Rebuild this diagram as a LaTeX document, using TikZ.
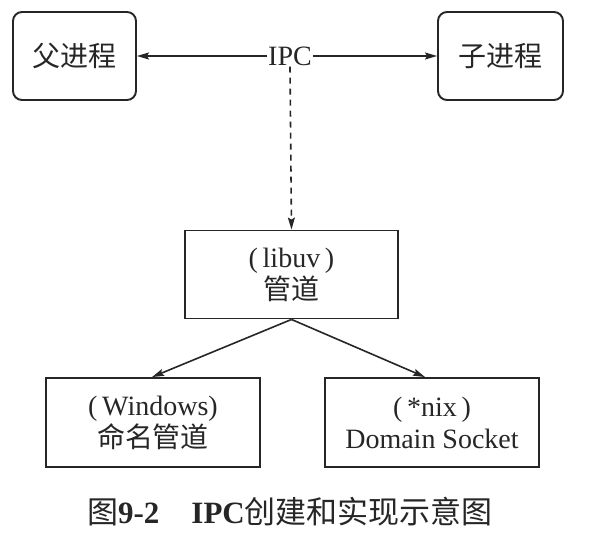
\documentclass[tikz,border=0pt]{standalone}
\usepackage{fontspec}
\setmainfont{Liberation Serif}
\newfontfamily\cjk{Noto Sans CJK SC}
\usetikzlibrary{arrows.meta}
\definecolor{ink}{HTML}{262626}
\definecolor{txt}{HTML}{262626}
\tikzset{
  proc/.style={draw=ink, line width=1.9pt, rounded corners=9pt, minimum width=123pt, minimum height=88pt, font=\fontsize{28}{32}\selectfont\cjk, text=txt},
  plainbox/.style={draw=ink, line width=1.9pt, minimum width=214pt, minimum height=88pt, align=center, font=\fontsize{28}{32}\selectfont, text=txt},
  conn/.style={draw=ink, line width=1.6pt, -{Stealth[length=12pt,width=7pt,inset=2pt]}},
  dashconn/.style={draw=ink, line width=1.6pt, dash pattern=on 6pt off 5pt, -{Stealth[length=12pt,width=7pt,inset=2pt]}}
}
\begin{document}
\begin{tikzpicture}[x=1pt,y=-1pt]
\useasboundingbox (0,0) rectangle (592,544);
\node[proc] (parent) at (74.5,56) {父进程};
\node[proc, minimum width=125pt] (child) at (500.5,56) {子进程};
\node[text=txt, font=\fontsize{28}{32}\selectfont, inner sep=1pt] (ipc) at (290,56) {IPC};
\node[plainbox, minimum width=213pt] (libuv) at (291.5,274.5) {(\,libuv\,)\\{\cjk 管道}};
\node[plainbox, minimum height=89pt] (win) at (153,422.5) {(\,Windows)\\{\cjk 命名管道}};
\node[plainbox, minimum height=89pt] (nix) at (432,422.5) {(\,*nix\,)\\Domain Socket};
\node[text=txt, font=\fontsize{31}{34}\selectfont] (cap) at (290,512) {{\cjk 图}\textbf{9-2}\hspace{32pt}\textbf{IPC}{\cjk 创建和实现示意图}};
\draw[conn] (ipc.west) -- (parent.east);
\draw[conn] (ipc.east) -- (child.west);
\draw[dashconn] (ipc.south) -- (libuv.north);
\draw[conn] (libuv.south) -- ([xshift=-1pt]win.north);
\draw[conn] (libuv.south) -- ([xshift=-7pt]nix.north);
\end{tikzpicture}
\end{document}
